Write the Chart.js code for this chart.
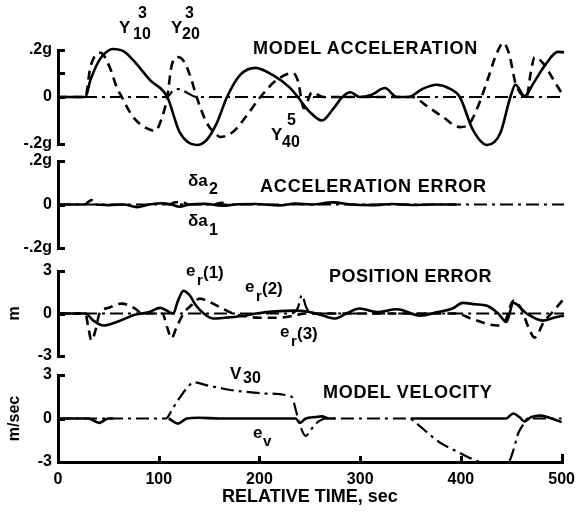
<!DOCTYPE html>
<html><head><meta charset="utf-8">
<script src="https://cdn.jsdelivr.net/npm/chart.js@4/dist/chart.umd.min.js"></script>
<style>
html,body{margin:0;padding:0;background:#fff;}
#wrap{position:relative;width:583px;height:516px;overflow:hidden;background:#fff;}
#wrap canvas{position:absolute;left:0;top:0;}
.lbl{position:absolute;font-family:"Liberation Sans",Arial,sans-serif;font-weight:bold;color:#000;white-space:nowrap;line-height:1;}
.ax{position:absolute;background:#000;z-index:5;}
</style></head><body>
<div id="wrap">
<canvas id="c1" width="583" height="516"></canvas>
<canvas id="c2" width="583" height="516"></canvas>
<canvas id="c3" width="583" height="516"></canvas>
<canvas id="c4" width="583" height="516"></canvas>
</div>
<script>
// ---------- DATA ----------
// Panel 1: model acceleration (g)
const timeY10 = [0,27,32,41,47,54,65,74,91,108,120,137,147,157,167,180,195,212,229,237,248,261,272,281,289,298,310,323,335,346,360,374,387,397,410,424,437,447,452,461,470,482,494,500];
const accY10  = [0,0,0.072,0.158,0.188,0.204,0.194,0.158,0.072,0,-0.148,-0.204,-0.182,-0.11,0,0.094,0.124,0.094,0.04,0,-0.06,-0.1,-0.05,0,0.02,0,0.01,0.038,0,0,0.034,0.052,0.036,0,-0.14,-0.204,-0.154,0,0.052,0.004,0.06,0.14,0.192,0.19];
const timeY20 = [0,27,32,42,51,58,63,74,88,96,103,108,112,118,125,132,137,147,157,160,173,187,200,216,232,237,243,251,262,350,365,380,397,405,415,425,433,440,446,452,463,467,471,480,490,500];
const accY20  = [0,0,0.128,0.188,0.128,0.042,0,-0.084,-0.134,-0.144,-0.084,0,0.128,0.17,0.148,0.072,0,-0.11,-0.162,-0.17,-0.148,-0.076,0,0.072,0.102,0.07,-0.048,0.02,0,0,-0.04,-0.084,-0.128,-0.12,-0.04,0.08,0.18,0.23,0.18,0.06,0,0.1,0.17,0.14,0.07,0];
const timeY30 = [0,108,113,118,125,137,500];
const accY30  = [0,0,0.024,0.034,0.024,0,0];
const accTicks = [-0.2,0,0.2];
const accTickLabels = ['-.2g','0','.2g'];

// Panel 2: acceleration error (g)
const timeDa1 = [0,27,28,37,50,65,78,90,104,112,120,130,145,162,175,195,219,235,250,272,290,310,330,350,370,394];
const errDa1  = [0,0,null,0,-0.003,0,-0.012,0,0.006,0,-0.01,0,0.003,-0.006,0,0.002,-0.004,0.004,0,0.01,0,-0.003,0.002,-0.002,0,0];
const timeDa2 = [27,30,33,36,37,110,116,122,128,129,155,162,169];
const errDa2  = [0,0.012,0.02,0.004,null,0,0.01,0.012,0,null,0,0.008,0];
const timeDaRef = [0,500];
const errDaRef  = [0,0];

// Panel 3: position error (m)
const timeEr1 = [0,27,35,45,60,75,90,101,110,114,118,124,130,136,144,153,165,180,196,215,235,245,260,274,285,298,315,335,358,375,390,400,412,424,435,443,450,463,479,490,500];
const posEr1  = [0,0,-0.5,-0.85,-0.55,-0.1,0.1,0.4,0.1,0,0.8,1.6,1.3,0.6,0,-0.35,-0.3,-0.2,0,0.15,0.2,0.15,-0.1,-0.35,0,0.35,0.1,0.3,-0.15,0.1,0.35,0.75,0.65,0.55,0,-0.6,0.75,0,-0.5,-0.3,-0.15];
const timeEr2 = [0,27,30,33,37,41,50,63,75,84,103,108,112,117,124,132,140,150,160,173,185,200,215,230,245,260,393,410,434,442,450,458,465,471,480,490,500];
const posEr2  = [0,0,-1.0,-1.9,-1.2,0,0.4,0.7,0.4,0,0,-1.0,-1.75,-1.0,0,0.6,1.05,0.8,0.45,0,-0.2,-0.3,-0.3,-0.2,0,0,0,-0.4,-0.85,-0.5,0.9,0.3,-1.0,-1.7,-0.6,0.2,1.05];
const timeEr3 = [0,230,237,241,245,250,500];
const posEr3  = [0,0,0.4,1.3,0.5,0,0];
const posTicks = [-3,0,3];
const posTickLabels = ['-3','0','3'];

// Panel 4: model velocity (m/sec)
const timeV30 = [0,107,114,121,128,135,147,160,175,190,206,232,236,240,246,251,256,267,348,358,368,380,397,410,420,447,452,457,462,466,500];
const velV30  = [0,0,0.7,1.45,2.1,2.5,2.3,2.12,1.93,1.82,1.72,1.5,0.6,-0.4,-1.2,-0.8,-0.35,0,0,-0.45,-1.05,-1.7,-2.3,-2.75,-3,-3,-2.2,-1.0,-0.4,0,0];
const timeEv  = [0,30,41,50,55,56,106,110,119,128,140,160,200,236,240,246,256,262,269,275,276,349,350,380,420,445,452,458,463,470,479,490,500];
const velEv   = [0,0,-0.3,0,0,null,null,0,-0.35,0,0.05,0,0,0,-0.3,0,0.1,0.15,0,0,null,null,0,0,0,0,0.35,0.1,-0.2,0.1,0.2,0,-0.25];
const velTicks = [-3,0,3];
const velTickLabels = ['-3','0','3'];

const timeTicks = [0,100,200,300,400,500];

// ---------- STYLES ----------
const FONT = 'Liberation Sans';
const SOLID = {borderWidth:2.6, borderDash:[]};
const DASH = {borderWidth:2.6, borderDash:[9,6]};
const DASHDOT = {borderWidth:2.2, borderDash:[13,5,3,5]};

function series(times, vals, st) {
  return Object.assign({
    data: times.map((t,i)=>({x:t, y:vals[i]})),
    borderColor:'#000', pointRadius:0, fill:false, clip:false, spanGaps:false,
    cubicInterpolationMode:'monotone', borderCapStyle:'butt'
  }, st);
}

const wrap = document.getElementById('wrap');
function bar(l, t, w, h) {
  const d = document.createElement('div');
  d.className = 'ax';
  d.style.left = l + 'px'; d.style.top = t + 'px'; d.style.width = w + 'px'; d.style.height = h + 'px';
  wrap.appendChild(d);
}

// axis brackets placed from the chart's own scales
const bracket = {
  id:'bracket',
  afterRender(chart, args, o) {
    if (chart.$bracketDone) return;
    chart.$bracketDone = true;
    const x = chart.scales.x, y = chart.scales.y;
    const x0 = Math.round(x.getPixelForValue(0));
    const yT = Math.round(y.getPixelForValue(o.ymax)), yB = Math.round(y.getPixelForValue(o.ymin));
    bar(x0 - 1, yT - 1, 3, yB - yT + 3);
    (o.stubs||[]).forEach(v=>{ const py = Math.round(y.getPixelForValue(v)); bar(x0 - 1, py - 1, 8, 3); });
    if (o.xAxis) {
      const xe = Math.round(x.getPixelForValue(500));
      bar(x0 - 1, yB - 1, xe - x0 + 3, 3);
      timeTicks.forEach(v=>{ if (v===0) return; const px = Math.round(x.getPixelForValue(v)); const h = (v===500?8:6); bar(px - 1, yB - h, 3, h); });
    }
  }
};

function panel(id, top, bottom, ymin, ymax, ticks, labels, stubs, unit, datasets, showX) {
  return new Chart(document.getElementById(id), {
    type:'line',
    data:{datasets},
    options:{
      responsive:false, animation:false, events:[],
      layout:{padding:{top, bottom, left:0, right:19}},
      plugins:{legend:{display:false}, tooltip:{enabled:false}, bracket:{stubs, xAxis:showX, ymin, ymax}},
      scales:{
        x:{type:'linear', min:0, max:500, display:showX,
           grid:{display:false, drawTicks:false}, border:{display:false},
           afterBuildTicks:s=>{s.ticks=timeTicks.map(v=>({value:v}));},
           afterFit:s=>{ if (showX) s.height=54; },
           ticks:{autoSkip:false, maxRotation:0, padding:8, color:'#000', font:{family:FONT,size:16,weight:'bold'}},
           title:{display:showX, text:'RELATIVE TIME, sec', color:'#000', padding:{top:0,bottom:8}, font:{family:FONT,size:18,weight:'bold'}}
        },
        y:{type:'linear', min:ymin, max:ymax,
           grid:{display:false, drawTicks:false}, border:{display:false},
           afterBuildTicks:s=>{s.ticks=ticks.map(v=>({value:v}));},
           afterFit:s=>{s.width=58;},
           ticks:{padding:6, color:'#000', font:{family:FONT,size:16,weight:'bold'},
                  callback:(v,i)=>labels[i]},
           title:{display:!!unit, text:unit||'', color:'#000', padding:{top:5,bottom:0}, font:{family:FONT,size:16,weight:'bold'}}
        }
      }
    },
    plugins:[bracket]
  });
}

panel('c1', 50, 372, -0.2, 0.2, accTicks, accTickLabels, [0.2,0.1,0,-0.2], null, [
  series(timeY30, accY30, DASHDOT),
  series(timeY20, accY20, DASH),
  series(timeY10, accY10, SOLID)
], false);
panel('c2', 161, 268, -0.2, 0.2, accTicks, accTickLabels, [0.2,0,-0.2], null, [
  series(timeDaRef, errDaRef, DASHDOT),
  series(timeDa2, errDa2, DASH),
  series(timeDa1, errDa1, SOLID)
], false);
panel('c3', 271, 160, -3, 3, posTicks, posTickLabels, [3,0,-3], 'm', [
  series(timeEr3, posEr3, DASHDOT),
  series(timeEr2, posEr2, DASH),
  series(timeEr1, posEr1, SOLID)
], false);
panel('c4', 375, 0, -3, 3, velTicks, velTickLabels, [3,0], 'm/sec', [
  series(timeV30, velV30, DASHDOT),
  series(timeEv, velEv, SOLID)
], true);

// ---------- TEXT LABELS ----------
function put(text, left, top, size, ls) {
  const d = document.createElement('div');
  d.className='lbl'; d.textContent=text;
  d.style.left=left+'px'; d.style.top=top+'px'; d.style.fontSize=size+'px';
  if (ls) d.style.letterSpacing=ls+'px';
  wrap.appendChild(d);
}
// panel titles
put('MODEL ACCELERATION', 253, 39, 18, 0.8);
put('ACCELERATION ERROR', 260, 177, 18, 0.85);
put('POSITION ERROR', 329, 267, 18, 0.5);
put('MODEL VELOCITY', 323, 383, 18, 0.7);
// curve labels
put('Y',119,19,17); put('10',133,26,16); put('3',138,5,16);
put('Y',171,19,17); put('20',182,26,16); put('3',185,5,16);
put('Y',271,126,17); put('40',282,134,16); put('5',287,112,16);
put('\u03b4a',188,172,17); put('2',209,181,16);
put('\u03b4a',188,212,17); put('1',209,222,16);
put('e',186,262,17); put('r',197,272,15); put('(1)',203,264,17);
put('e',245,278,17); put('r',256,288,15); put('(2)',262,280,17);
put('e',280,323,17); put('r',291,333,15); put('(3)',297,325,17);
put('V',230,365,17); put('30',243,370,16);
put('e',253,424,17); put('v',263,433,15);
</script>
</body></html>
